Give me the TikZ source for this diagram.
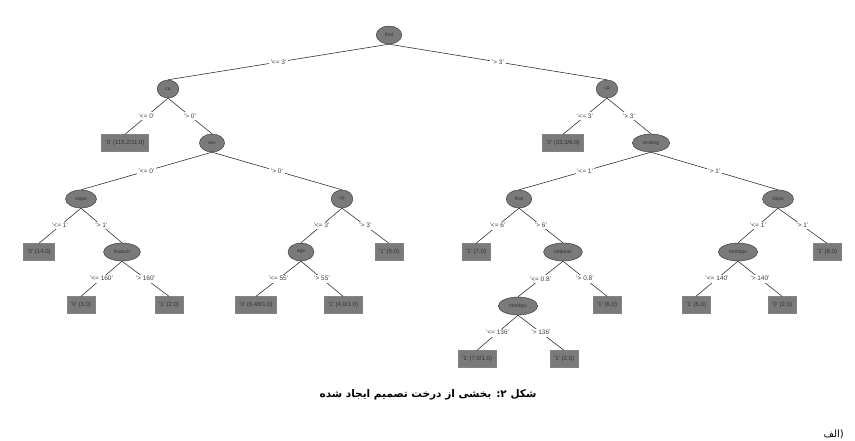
\documentclass[tikz,border=0pt]{standalone}
\usepackage{fontspec}
\setmainfont{Liberation Sans}
\newfontfamily\arabicfont[Script=Arabic]{DejaVu Sans}
\TeXXeTstate=1
\usetikzlibrary{shapes, positioning}
\definecolor{NodeGray}{RGB}{122,122,122}
\definecolor{LineGray}{RGB}{50,50,50}

\begin{document}
\begin{tikzpicture}[
	x=1pt, y=-1pt,
	Split/.style={
		ellipse, fill=NodeGray, draw=LineGray, line width=0.4pt,
		minimum height=18pt, minimum width=14pt,
		inner xsep=5pt, inner ysep=0pt,
		font=\fontsize{5}{6}\selectfont, text=black!80
	},
	Leaf/.style={
		rectangle, fill=NodeGray, draw=LineGray!60, line width=0.4pt,
		minimum height=17pt, inner xsep=4pt, inner ysep=0pt,
		font=\fontsize{6}{7}\selectfont, text=black!80
	},
	EdgeLbl/.style={
		fill=white, inner sep=1.5pt,
		font=\fontsize{6.5}{7}\selectfont, text=black!75
	},
	Branch/.style={draw=LineGray, line width=0.6pt}
	]
	
	\useasboundingbox (0,0) rectangle (855,441);
	
	% tree nodes
	\path
	(389,35)  node [Split] (Thal) {thal}
	(168,89)  node [Split] (CaL) {ca}
	(607,89)  node [Split] (CpR) {cp}
	(125,143) node [Leaf]  (LfA) {'0' (115.2/11.0)}
	(212,143) node [Split] (Sex) {sex}
	(563,143) node [Leaf]  (LfB) {'0' (33.3/6.0)}
	(651,143) node [Split] (Restecg) {restecg}
	(81,199)  node [Split] (SlopeL) {slope}
	(342,199) node [Split] (CpL) {cp}
	(519,199) node [Split] (ThalR) {thal}
	(778,199) node [Split] (SlopeR) {slope}
	(39,252)  node [Leaf]  (LfC) {'0' (14.0)}
	(122,252) node [Split] (Thalach) {thalach}
	(301,252) node [Split] (Age) {age}
	(389,252) node [Leaf]  (LfD) {'1' (5.0)}
	(476,252) node [Leaf]  (LfE) {'1' (7.0)}
	(563,252) node [Split] (Oldpeak) {oldpeak}
	(738,252) node [Split] (TrestR) {trestbps}
	(827,252) node [Leaf]  (LfF) {'1' (8.0)}
	(81,305)  node [Leaf]  (LfG) {'0' (3.0)}
	(169,305) node [Leaf]  (LfH) {'1' (2.0)}
	(256,305) node [Leaf]  (LfI) {'0' (6.48/1.0)}
	(343,305) node [Leaf]  (LfJ) {'1' (4.0/1.0)}
	(518,306) node [Split] (TrestL) {trestbps}
	(607,305) node [Leaf]  (LfK) {'1' (6.0)}
	(696,305) node [Leaf]  (LfL) {'1' (6.0)}
	(782,305) node [Leaf]  (LfM) {'0' (2.0)}
	(477,359) node [Leaf]  (LfN) {'1' (7.0/1.0)}
	(564,359) node [Leaf]  (LfO) {'1' (2.0)};
	
	% branches
	\draw [Branch]
	(Thal.south) -- (CaL.north) node [midway, EdgeLbl] {'<= 3'}
	(Thal.south) -- (CpR.north) node [midway, EdgeLbl] {'> 3'}
	(CaL.south) -- (LfA.north) node [midway, EdgeLbl] {'<= 0'}
	(CaL.south) -- (Sex.north) node [midway, EdgeLbl] {'> 0'}
	(CpR.south) -- (LfB.north) node [midway, EdgeLbl] {'<= 3'}
	(CpR.south) -- (Restecg.north) node [midway, EdgeLbl] {'> 3'}
	(Sex.south) -- (SlopeL.north) node [midway, EdgeLbl] {'<= 0'}
	(Sex.south) -- (CpL.north) node [midway, EdgeLbl] {'> 0'}
	(Restecg.south) -- (ThalR.north) node [midway, EdgeLbl] {'<= 1'}
	(Restecg.south) -- (SlopeR.north) node [midway, EdgeLbl] {'> 1'}
	(SlopeL.south) -- (LfC.north) node [midway, EdgeLbl] {'<= 1'}
	(SlopeL.south) -- (Thalach.north) node [midway, EdgeLbl] {'> 1'}
	(CpL.south) -- (Age.north) node [midway, EdgeLbl] {'<= 3'}
	(CpL.south) -- (LfD.north) node [midway, EdgeLbl] {'> 3'}
	(ThalR.south) -- (LfE.north) node [midway, EdgeLbl] {'<= 6'}
	(ThalR.south) -- (Oldpeak.north) node [midway, EdgeLbl] {'> 6'}
	(SlopeR.south) -- (TrestR.north) node [midway, EdgeLbl] {'<= 1'}
	(SlopeR.south) -- (LfF.north) node [midway, EdgeLbl] {'> 1'}
	(Thalach.south) -- (LfG.north) node [midway, EdgeLbl] {'<= 160'}
	(Thalach.south) -- (LfH.north) node [midway, EdgeLbl] {'> 160'}
	(Age.south) -- (LfI.north) node [midway, EdgeLbl] {'<= 55'}
	(Age.south) -- (LfJ.north) node [midway, EdgeLbl] {'> 55'}
	(Oldpeak.south) -- (TrestL.north) node [midway, EdgeLbl] {'<= 0.8'}
	(Oldpeak.south) -- (LfK.north) node [midway, EdgeLbl] {'> 0.8'}
	(TrestR.south) -- (LfL.north) node [midway, EdgeLbl] {'<= 140'}
	(TrestR.south) -- (LfM.north) node [midway, EdgeLbl] {'> 140'}
	(TrestL.south) -- (LfN.north) node [midway, EdgeLbl] {'<= 136'}
	(TrestL.south) -- (LfO.north) node [midway, EdgeLbl] {'> 136'};
	
	% caption
	\node (Caption) at (428,395)
	{\arabicfont\bfseries\fontsize{10.5}{12}\selectfont\beginR شکل ۲: بخشی از درخت تصمیم ایجاد شده\endR};
	\node [anchor=east, inner sep=0pt] (Part) at (844,434)
	{\arabicfont\fontsize{10}{11}\selectfont\beginR(الف\endR};
\end{tikzpicture}
\end{document}
